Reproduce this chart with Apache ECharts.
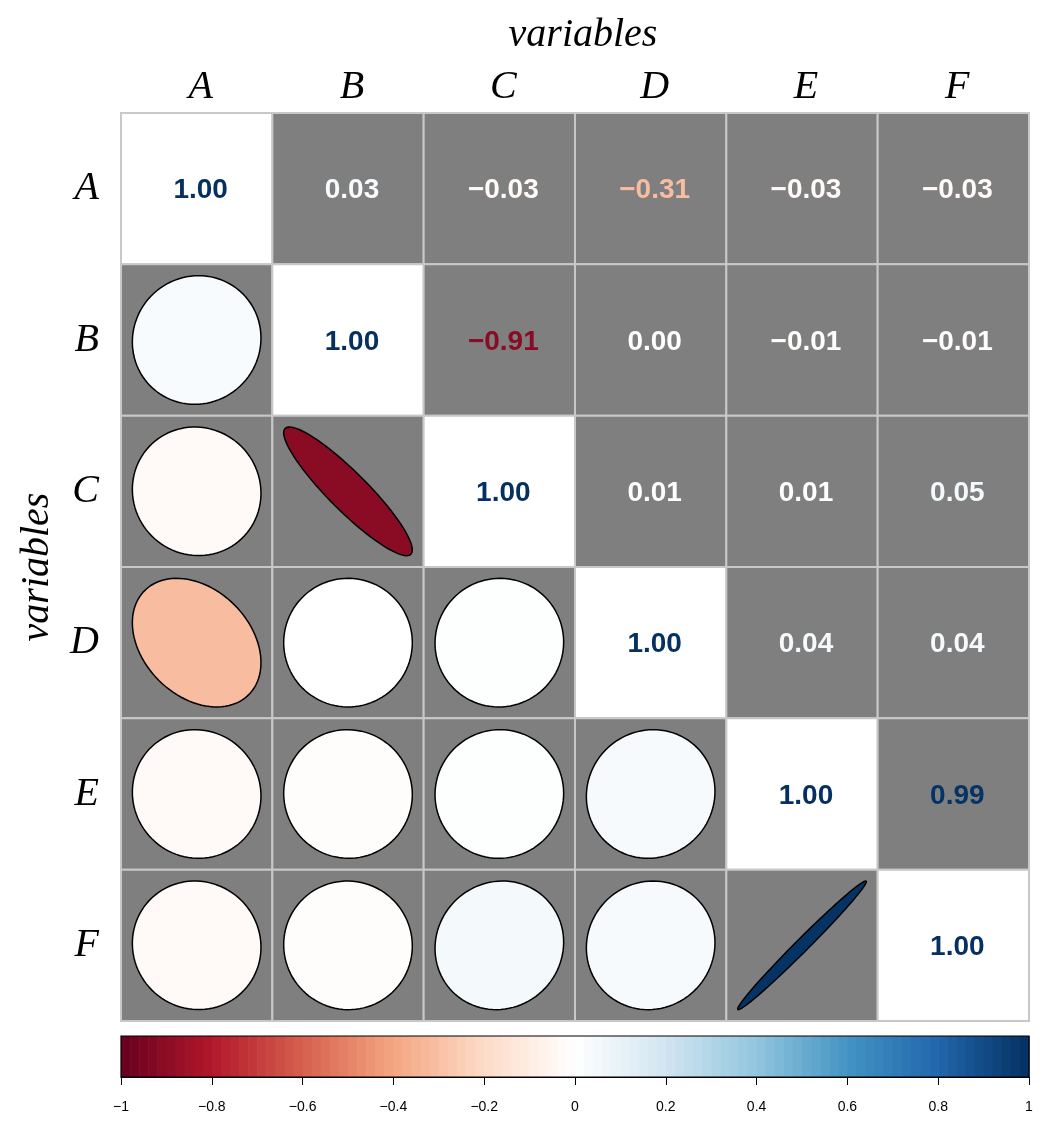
<!DOCTYPE html>
<html>
<head>
<meta charset="utf-8">
<script src="https://cdn.jsdelivr.net/npm/echarts@6/dist/echarts.min.js"></script>
<style>
  html, body { margin: 0; padding: 0; background: #fff; }
  #chart { width: 1049px; height: 1131px; }
</style>
</head>
<body>
<div id="chart"></div>
<script>
const vars = ['A', 'B', 'C', 'D', 'E', 'F'];

// correlation matrix, row by row
const rowA = [1.00, 0.03, -0.03, -0.31, -0.03, -0.03];
const rowB = [0.03, 1.00, -0.91, 0.00, -0.01, -0.01];
const rowC = [-0.03, -0.91, 1.00, 0.01, 0.01, 0.05];
const rowD = [-0.31, 0.00, 0.01, 1.00, 0.04, 0.04];
const rowE = [-0.03, -0.01, 0.01, 0.04, 1.00, 0.99];
const rowF = [-0.03, -0.01, 0.05, 0.04, 0.99, 1.00];
const corr = [rowA, rowB, rowC, rowD, rowE, rowF];

// RdBu palette, -1 .. 1
const palette = ['#67001F', '#B2182B', '#D6604D', '#F4A582', '#FDDBC7', '#FFFFFF',
                 '#D1E5F0', '#92C5DE', '#4393C3', '#2166AC', '#053061'];

const SERIF = "'Liberation Serif', 'Times New Roman', serif";
const SANS = "'Liberation Sans', Arial, sans-serif";

function hex2rgb(h) {
    return [1, 3, 5].map(i => parseInt(h.slice(i, i + 2), 16));
}

function valueColor(v) {
    let t = (v + 1) / 2 * (palette.length - 1);
    let i = Math.min(Math.floor(t), palette.length - 2);
    let f = t - i;
    const a = hex2rgb(palette[i]), b = hex2rgb(palette[i + 1]);
    const c = a.map((x, k) => Math.round(x + (b[k] - x) * f));
    return 'rgb(' + c.join(',') + ')';
}

function fmt(v) {
    return v.toFixed(2).replace('-', '\u2212');
}

// cells: [col, row, value]
const cells = [];
corr.forEach((row, r) => row.forEach((v, c) => cells.push([c, r, v])));

// colour legend bands (one per palette step)
const bands = [];
for (let k = 0; k < 100; k++) {
    bands.push([-1 + k * 0.02, -1 + (k + 1) * 0.02]);
}

function ellipsePoints(rho, cx, cy, w, h) {
    const d = Math.acos(rho);
    const pts = [];
    for (let k = 0; k < 99; k++) {
        const t = 2 * Math.PI * k / 98;
        const x = Math.cos(t + d / 2) / 2 * 0.85;
        const y = Math.cos(t - d / 2) / 2 * 0.85;
        pts.push([cx + x * w, cy - y * h]);
    }
    return pts;
}

function renderCell(params, api) {
    const c = api.value(0), r = api.value(1), v = api.value(2);
    const center = api.coord([c, r]);
    const size = api.size([1, 1]);
    const w = size[0], h = size[1];
    const children = [{
        type: 'rect',
        shape: { x: center[0] - w / 2, y: center[1] - h / 2, width: w, height: h },
        style: { fill: c === r ? '#FFFFFF' : '#7F7F7F', stroke: '#C8C8C8', lineWidth: 2 }
    }];
    if (c >= r) {
        children.push({
            type: 'text',
            style: {
                text: fmt(v), x: center[0] + 4, y: center[1] + 2,
                fill: valueColor(v), align: 'center', verticalAlign: 'middle',
                fontSize: 28, fontWeight: 'bold', fontFamily: SANS
            }
        });
    } else {
        children.push({
            type: 'polygon',
            shape: { points: ellipsePoints(v, center[0], center[1], w, h) },
            style: { fill: valueColor(v), stroke: '#000', lineWidth: 1.5 }
        });
    }
    return { type: 'group', children: children };
}

function renderBand(params, api) {
    const x0 = api.value(0), x1 = api.value(1);
    const p0 = api.coord([x0, 1]);
    const p1 = api.coord([x1, 0]);
    return {
        type: 'rect',
        shape: { x: p0[0], y: p0[1], width: p1[0] - p0[0] + 0.6, height: p1[1] - p0[1] },
        style: { fill: valueColor((x0 + x1) / 2) }
    };
}

function renderFrame(params, api) {
    const p0 = api.coord([-1, 1]);
    const p1 = api.coord([1, 0]);
    return {
        type: 'rect',
        shape: { x: p0[0], y: p0[1], width: p1[0] - p0[0], height: p1[1] - p0[1] },
        style: { fill: 'none', stroke: '#000', lineWidth: 1.2 }
    };
}

const chart = echarts.init(document.getElementById('chart'), null, { renderer: 'canvas' });

const option = {
    backgroundColor: '#FFFFFF',
    animation: false,
    grid: [
        { left: 121, top: 113, width: 908, height: 908 },
        { left: 121, top: 1036, width: 908, height: 41 }
    ],
    xAxis: [
        {
            gridIndex: 0, type: 'category', data: vars, position: 'top',
            axisLine: { show: false }, axisTick: { show: false }, splitLine: { show: false },
            axisLabel: { fontFamily: SERIF, fontStyle: 'italic', fontSize: 40, color: '#000', margin: 6, padding: [0, 0, 0, 8] },
            name: 'variables', nameLocation: 'middle', nameGap: 58,
            nameTextStyle: { fontFamily: SERIF, fontStyle: 'italic', fontSize: 40, color: '#000', padding: [0, 0, 0, 16] }
        },
        {
            gridIndex: 1, type: 'value', min: -1, max: 1, interval: 0.2,
            axisLine: { show: true, lineStyle: { color: '#000', width: 1 } },
            axisTick: { show: true, length: 8, lineStyle: { color: '#000' } },
            splitLine: { show: false },
            axisLabel: {
                fontFamily: "'Liberation Sans Narrow', " + SANS, fontSize: 14, color: '#000', margin: 23,
                formatter: v => String(Math.round(v * 10) / 10).replace('-', '\u2212')
            }
        }
    ],
    yAxis: [
        {
            gridIndex: 0, type: 'category', data: vars, inverse: true,
            axisLabel: { fontFamily: SERIF, fontStyle: 'italic', fontSize: 40, color: '#000', margin: 22, padding: [4, 0, 0, 0] },
            axisLine: { show: false }, axisTick: { show: false }, splitLine: { show: false },
            name: 'variables', nameLocation: 'middle', nameGap: 64, nameRotate: 90,
            nameTextStyle: { fontFamily: SERIF, fontStyle: 'italic', fontSize: 40, color: '#000' }
        },
        {
            gridIndex: 1, type: 'value', min: 0, max: 1, show: false
        }
    ],
    series: [
        {
            type: 'custom', xAxisIndex: 0, yAxisIndex: 0,
            renderItem: renderCell, data: cells, silent: true
        },
        {
            type: 'custom', xAxisIndex: 1, yAxisIndex: 1,
            renderItem: renderBand, data: bands, silent: true
        },
        {
            type: 'custom', xAxisIndex: 1, yAxisIndex: 1, z: 5,
            renderItem: renderFrame, data: [[0]], silent: true
        }
    ]
};

chart.setOption(option);
</script>
</body>
</html>
